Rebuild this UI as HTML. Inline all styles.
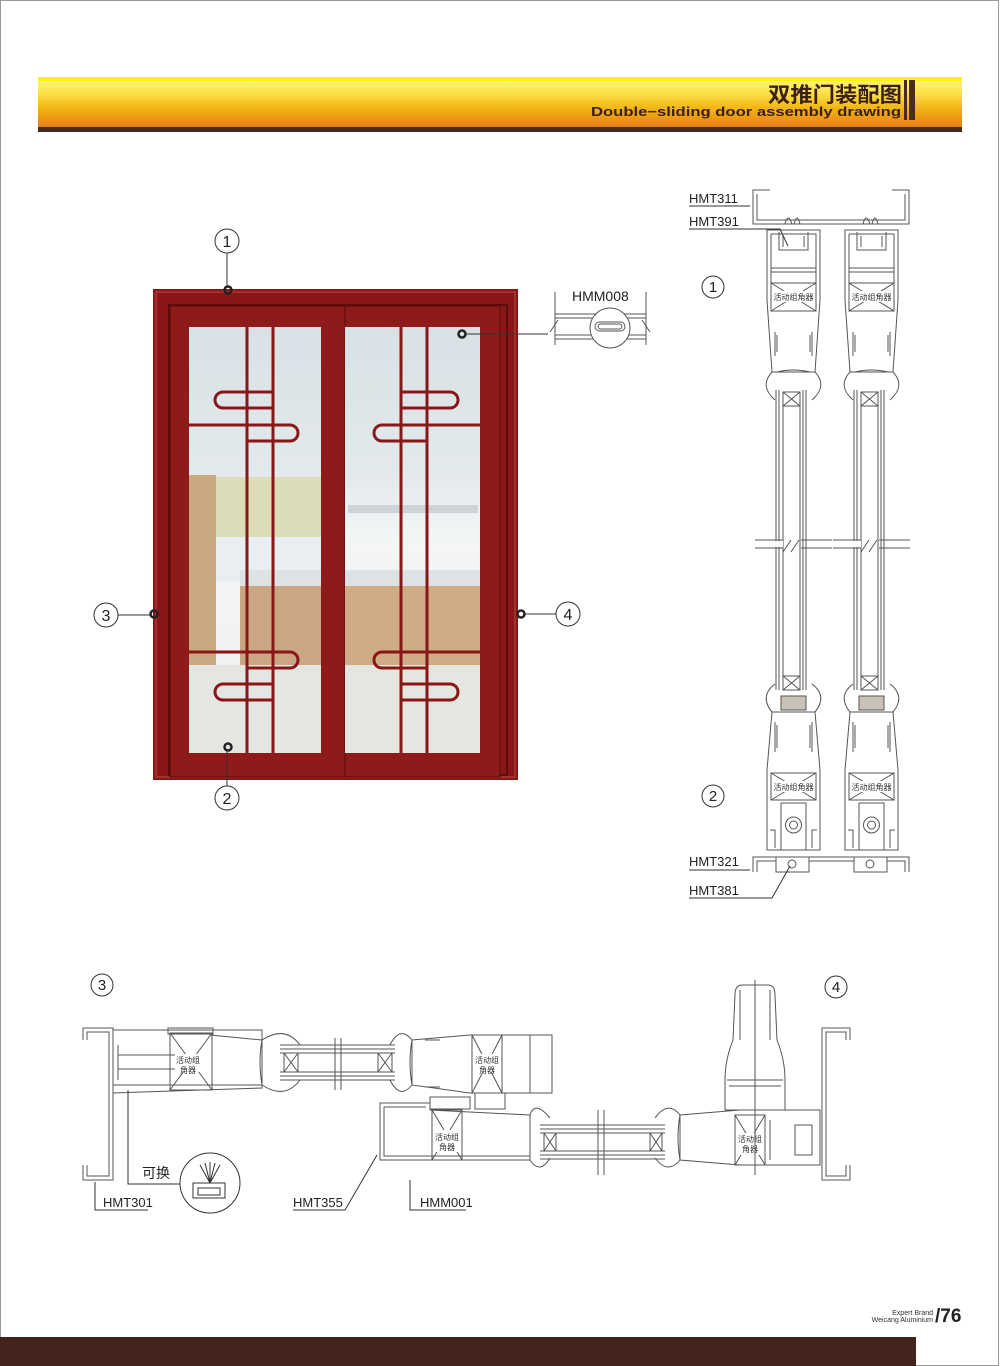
<!DOCTYPE html>
<html><head><meta charset="utf-8"><style>
html,body{margin:0;padding:0;background:#fff}
svg{display:block}
text{font-family:"Liberation Sans","Noto Sans CJK SC",sans-serif}
</style></head><body>
<svg width="1000" height="1366" viewBox="0 0 1000 1366" xmlns="http://www.w3.org/2000/svg">
<defs>
<linearGradient id="hdr" x1="0" y1="0" x2="0" y2="1">
<stop offset="0" stop-color="#fff200"/><stop offset="0.08" stop-color="#fff36a"/>
<stop offset="0.3" stop-color="#fbe34a"/><stop offset="0.6" stop-color="#f2b514"/>
<stop offset="1" stop-color="#e57818"/></linearGradient>
<linearGradient id="glassTop" x1="0" y1="0" x2="0" y2="1">
<stop offset="0" stop-color="#d9e1e6"/><stop offset="0.35" stop-color="#e3e9ec"/>
<stop offset="0.5" stop-color="#f4f6f6"/><stop offset="1" stop-color="#eef0ef"/></linearGradient>
<g id="col" fill="none" stroke="#555" stroke-width="1">
 <path d="M2,230 H55 V300 L50,372 H7 L2,300 Z" fill="#fff"/>
 <path d="M6,234 H51 V296 M6,234 V296"/>
 <path d="M14,232 V250 H43 V232 M18,236 V247 M39,236 V247"/>
 <path d="M6,268 H51 M6,272 H51"/>
 <rect x="6" y="283" width="45" height="28" fill="#fff"/>
 <path d="M6,283 L51,311 M51,283 L6,311"/>
 <rect x="10" y="291" width="37" height="11" fill="#fff" stroke="none"/>
 <text x="28.5" y="300" font-size="8" text-anchor="middle" fill="#333" stroke="none">活动组角器</text>
 <path d="M10,332 V356 M47,332 V356 M12,335 V352 M45,335 V352"/>
 <path d="M7,372 Q-6,386 10,400 M50,372 Q63,386 47,400 M12,372 Q28,368 45,372" />
 <path d="M11,390 V690 M14,390 V690 M18,392 V690 M35,392 V690 M38,390 V690 M41,390 V690"/>
 <rect x="18" y="392" width="17" height="14" fill="#fff"/><path d="M18,392 L35,406 M35,392 L18,406"/>
 <rect x="18" y="676" width="17" height="14" fill="#fff"/><path d="M18,676 L35,690 M35,676 L18,690"/>
 <rect x="-2" y="541" width="20" height="6" fill="#fff" stroke="none"/>
 <path d="M-10,540 H18 M-10,548 H18 M36,540 H67 M36,548 H67 M18,552 L26,540 M26,552 L34,540"/>
 <path d="M10,684 Q-6,696 7,712 M47,684 Q63,696 50,712"/>
 <rect x="16" y="696" width="25" height="14" fill="#c9c2b8"/>
 <path d="M7,712 H50 L55,770 V850 H2 V770 Z" fill="#fff"/>
 <path d="M10,722 V752 M47,722 V752 M12,725 V748 M45,725 V748"/>
 <rect x="6" y="773" width="45" height="27" fill="#fff"/>
 <path d="M6,773 L51,800 M51,773 L6,800"/>
 <rect x="10" y="781" width="37" height="11" fill="#fff" stroke="none"/>
 <text x="28.5" y="790" font-size="8" text-anchor="middle" fill="#333" stroke="none">活动组角器</text>
 <path d="M16,803 H41 V850 M16,803 V850"/>
 <circle cx="28.5" cy="825" r="8"/><circle cx="28.5" cy="825" r="4"/>
 <path d="M5,830 H10 V848 M52,830 H47 V848"/>
</g>
</defs>
<rect x="0.5" y="0.5" width="998" height="1365" fill="none" stroke="#999"/>
<!-- header -->
<rect x="38" y="77" width="924" height="52" fill="url(#hdr)"/>
<rect x="38" y="77" width="924" height="4" fill="#fff200"/>
<rect x="38" y="127" width="924" height="5" fill="#4a2a22"/>
<rect x="904" y="80" width="3" height="40" fill="#4a2a22"/><rect x="909" y="80" width="6" height="40" fill="#4a2a22"/>
<text x="768" y="102" font-size="21" font-weight="bold" fill="#3a2018" textLength="134" lengthAdjust="spacingAndGlyphs">双推门装配图</text>
<text x="591" y="116" font-size="13" font-weight="bold" fill="#3a2018" textLength="310" lengthAdjust="spacingAndGlyphs">Double−sliding door assembly drawing</text>

<!-- door -->
<rect x="153" y="289" width="365" height="491" fill="#8a1717"/>
<rect x="156" y="292" width="359" height="485" fill="none" stroke="#a8302c" stroke-width="2"/>
<rect x="169" y="305" width="338" height="470" fill="none" stroke="#5e0c0c" stroke-width="2"/>
<rect x="170" y="306" width="176" height="471" fill="#8e1a1a" stroke="#5a0a0a"/>
<rect x="345" y="306" width="155" height="471" fill="#8e1a1a" stroke="#5a0a0a"/>
<g>
<rect x="189" y="327" width="132" height="426" fill="url(#glassTop)"/>
<rect x="345" y="327" width="135" height="426" fill="url(#glassTop)"/>
<rect x="189" y="475" width="27" height="190" fill="#c9a97f"/>
<rect x="216" y="477" width="105" height="60" fill="#dcdcb8"/>
<rect x="216" y="537" width="105" height="45" fill="#e8eef1"/>
<rect x="240" y="585" width="81" height="80" fill="#cba683"/>
<rect x="189" y="665" width="132" height="88" fill="#e4e6e1"/>
<rect x="345" y="585" width="135" height="80" fill="#cfab86"/>
<rect x="345" y="665" width="135" height="88" fill="#e4e6df"/>
<rect x="345" y="570" width="135" height="16" fill="#dde2e5"/>
<rect x="240" y="570" width="81" height="16" fill="#dde2e5"/>
<rect x="348" y="505" width="130" height="8" fill="#cdd3d6"/>
</g>
<g fill="none" stroke="#8a1717" stroke-width="3">
<path d="M247,327 V753 M273,327 V753 M401,327 V753 M427,327 V753"/>
<path d="M223,392 H272 M223,408 H272 M223,392 A8,8 0 0 0 223,408"/>
<path d="M189,425 H290 A8,8 0 0 1 290,441 H247"/>
<path d="M189,652 H290 A8,8 0 0 1 290,668 H247"/>
<path d="M223,684 H272 M223,700 H272 M223,684 A8,8 0 0 0 223,700"/>
<path d="M401,392 H450 A8,8 0 0 1 450,408 H401"/>
<path d="M480,425 H382 A8,8 0 0 0 382,441 H427"/>
<path d="M480,652 H382 A8,8 0 0 0 382,668 H427"/>
<path d="M401,684 H450 A8,8 0 0 1 450,700 H401"/>
</g>
<g fill="none" stroke="#222" stroke-width="2.5">
<circle cx="228" cy="290" r="3.5"/><circle cx="228" cy="747" r="3.5"/><circle cx="154" cy="614" r="3.5"/><circle cx="521" cy="614" r="3.5"/><circle cx="462" cy="334" r="3.5"/>
</g>
<g fill="none" stroke="#333" stroke-width="1">
<path d="M227,253 V286 M227,751 V786 M118,615 H150 M525,614 H556 M466,334 H548"/>
<circle cx="227" cy="241" r="12" fill="#fff"/><circle cx="227" cy="798" r="12" fill="#fff"/>
<circle cx="106" cy="615" r="12" fill="#fff"/><circle cx="568" cy="614" r="12" fill="#fff"/>
</g>
<g font-size="16" text-anchor="middle" fill="#222">
<text x="227" y="247">1</text><text x="227" y="804">2</text><text x="106" y="621">3</text><text x="568" y="620">4</text>
</g>
<text x="572" y="301" font-size="14" fill="#222">HMM008</text>
<g fill="none" stroke="#555" stroke-width="1">
<path d="M555,292 V345 M646,292 V345"/>
<path d="M555,314 H646 M555,318 H646 M555,335 H646 M555,339 H646 M550,332 L558,320 M650,332 L642,320"/>
<circle cx="610" cy="328" r="20" fill="#fff"/>
<rect x="595" y="322" width="30" height="9" rx="4.5"/><rect x="598" y="324" width="24" height="5" rx="2.5"/>
</g>
<g fill="none" stroke="#555" stroke-width="1">
<path d="M770,190 H753 V224 H909 V190 H892"/>
<path d="M757,194 V220 H905 V194"/>
<path d="M785,224 Q788,212 792,224 M794,224 Q797,212 800,224 M863,224 Q866,212 870,224 M872,224 Q875,212 878,224"/>
</g>
<use href="#col" x="765"/><use href="#col" x="843"/>
<g fill="none" stroke="#555" stroke-width="1">
<path d="M753,872 V857 H909 V872 M757,872 V861 H905 V872"/>
<rect x="776" y="857" width="33" height="15" fill="#fff"/><rect x="854" y="857" width="33" height="15" fill="#fff"/>
<circle cx="792" cy="864" r="4"/><circle cx="870" cy="864" r="4"/>
</g>
<g font-size="13" fill="#222">
<text x="689" y="203">HMT311</text><text x="689" y="226">HMT391</text>
<text x="689" y="866">HMT321</text><text x="689" y="895">HMT381</text>
</g>
<g fill="none" stroke="#333" stroke-width="1">
<path d="M689,206 H750 M689,229 H780 L788,246 M689,870 H750 M689,898 H772 L790,866"/>
<circle cx="713" cy="287" r="11"/><circle cx="713" cy="796" r="11"/>
<circle cx="102" cy="985" r="11"/><circle cx="836" cy="987" r="11"/>
</g>
<g font-size="15" text-anchor="middle" fill="#222">
<text x="713" y="292">1</text><text x="713" y="801">2</text><text x="102" y="990">3</text><text x="836" y="992">4</text>
</g>
<g fill="none" stroke="#555" stroke-width="1">
<path d="M83,1040 V1028 H113 V1180 H83 V1165"/>
<path d="M87,1040 V1032 H109 V1176 H87 V1165"/>
<path d="M113,1030 H262 L262,1040 V1085 H113 Z" fill="#fff"/>
<path d="M140,1030 H262 L262,1088 L113,1093 M262,1040 L210,1035"/>
<rect x="170" y="1033" width="42" height="57"/>
<path d="M170,1033 L212,1090 M212,1033 L170,1090"/>
<rect x="168" y="1028" width="45" height="6"/>
<path d="M118,1055 H175 M118,1069 H175 M118,1045 V1080"/>
<path d="M262,1040 Q258,1062 262,1085 M262,1040 Q285,1025 300,1045 M262,1085 Q285,1100 300,1080"/>
<path d="M280,1045 H395 M280,1049 H395 M280,1053 H395 M280,1072 H395 M280,1076 H395 M280,1080 H395"/>
<rect x="284" y="1053" width="14" height="19"/><path d="M284,1053 L298,1072 M298,1053 L284,1072"/>
<rect x="378" y="1053" width="14" height="19"/><path d="M378,1053 L392,1072 M392,1053 L378,1072"/>
<path d="M335,1038 V1090 M341,1038 V1090"/>
<path d="M390,1045 Q400,1025 412,1040 M390,1080 Q400,1100 412,1085 M412,1040 Q408,1062 412,1085"/>
<path d="M412,1040 L470,1035 H552 V1093 H470 L412,1085 Z" fill="#fff"/>
<rect x="472" y="1035" width="30" height="58"/><path d="M472,1035 L502,1093 M502,1035 L472,1093"/>
<rect x="476" y="1054" width="22" height="18" fill="#fff" stroke="none"/>
<text x="487" y="1063" font-size="8" text-anchor="middle" fill="#333" stroke="none">活动组</text>
<text x="487" y="1073" font-size="8" text-anchor="middle" fill="#333" stroke="none">角器</text>
<path d="M425,1040 H440 M425,1087 H440 M530,1035 V1093"/>
<rect x="176" y="1054" width="26" height="18" fill="#fff" stroke="none"/>
<text x="188" y="1063" font-size="8" text-anchor="middle" fill="#333" stroke="none">活动组</text>
<text x="188" y="1073" font-size="8" text-anchor="middle" fill="#333" stroke="none">角器</text>
<rect x="430" y="1097" width="40" height="12"/><rect x="475" y="1093" width="30" height="16"/>
<path d="M380,1103 H430 V1110 L530,1115 V1160 H380 Z" fill="#fff"/>
<path d="M384,1107 H426 M384,1107 V1156 H530"/>
<rect x="432" y="1110" width="30" height="50"/><path d="M432,1110 L462,1160 M462,1110 L432,1160"/>
<rect x="435" y="1130" width="25" height="22" fill="#fff" stroke="none"/>
<text x="447" y="1140" font-size="8" text-anchor="middle" fill="#333" stroke="none">活动组</text>
<text x="447" y="1150" font-size="8" text-anchor="middle" fill="#333" stroke="none">角器</text>
<path d="M530,1115 Q535,1100 550,1118 M530,1160 Q540,1175 550,1158"/>
<path d="M540,1125 H665 M540,1129 H665 M540,1133 H665 M540,1151 H665 M540,1155 H665 M540,1159 H665"/>
<rect x="544" y="1133" width="12" height="18"/><path d="M544,1133 L556,1151 M556,1133 L544,1151"/>
<rect x="650" y="1133" width="12" height="18"/><path d="M650,1133 L662,1151 M662,1133 L650,1151"/>
<path d="M598,1110 V1175 M604,1110 V1175"/>
<path d="M655,1118 Q668,1100 680,1115 M655,1158 Q668,1175 680,1160 M680,1115 Q676,1137 680,1160"/>
<path d="M680,1115 L740,1110 H820 V1165 H740 L680,1160 Z" fill="#fff"/>
<rect x="735" y="1115" width="30" height="50"/><path d="M735,1115 L765,1165 M765,1115 L735,1165"/>
<rect x="738" y="1133" width="25" height="22" fill="#fff" stroke="none"/>
<text x="750" y="1142" font-size="8" text-anchor="middle" fill="#333" stroke="none">活动组</text>
<text x="750" y="1152" font-size="8" text-anchor="middle" fill="#333" stroke="none">角器</text>
<path d="M770,1120 V1160 M795,1125 H812 V1155 H795 Z"/>
<path d="M742,985 Q735,985 735,995 L733,1040 Q725,1060 725,1080 V1110 H785 V1080 Q785,1060 777,1040 L775,995 Q775,985 768,985 Z" fill="#fff"/>
<path d="M740,990 V1040 M770,990 V1040 M727,1080 H783 M729,1086 H781 M755,980 V1175"/>
<path d="M850,1040 V1028 H822 V1180 H850 V1165 M846,1040 V1032 H826 V1176 H846 V1165"/>
</g>
<g fill="none" stroke="#333" stroke-width="1">
<path d="M95,1182 V1210 H148 M128,1090 V1184 H180"/>
<circle cx="210" cy="1183" r="30" fill="#fff"/>
<path d="M193,1183 H225 V1198 H193 Z M198,1188 H220 V1195 H198 Z M210,1183 L200,1165 M210,1183 L205,1163 M210,1183 L210,1162 M210,1183 L215,1163 M210,1183 L220,1165"/>
<path d="M293,1210 H345 L377,1155 M410,1180 V1210 H466"/>
</g>
<g font-size="13" fill="#222">
<text x="103" y="1207">HMT301</text><text x="293" y="1207">HMT355</text><text x="420" y="1207">HMM001</text>
<text x="142" y="1178" font-size="14">可换</text>
</g>
<rect x="0" y="1337" width="916" height="29" fill="#45231d"/>
<text x="933" y="1315" font-size="7" text-anchor="end" fill="#333">Expert Brand</text>
<text x="933" y="1322" font-size="7" text-anchor="end" fill="#333">Weicang Aluminium</text>
<text x="935" y="1322" font-size="19" font-weight="bold" fill="#222">/76</text>
</svg>
</body></html>
